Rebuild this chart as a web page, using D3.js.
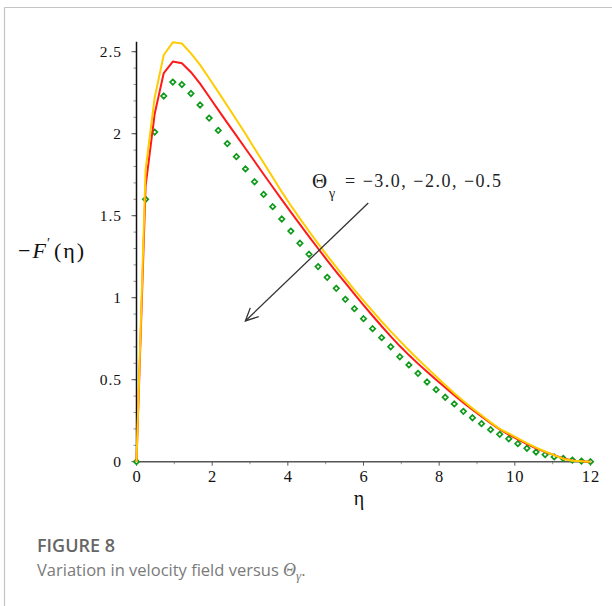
<!DOCTYPE html>
<html>
<head>
<meta charset="utf-8">
<script src="https://cdn.jsdelivr.net/npm/d3@7/dist/d3.min.js"></script>
<style>
  html, body { margin: 0; padding: 0; background: #fff; }
  svg { display: block; }
</style>
</head>
<body>
<svg id="chart" width="612" height="606"></svg>
<script>
// Similarity variable eta (solver output grid)
const eta = [0, 0.24, 0.48, 0.72, 0.96, 1.2, 1.44, 1.68, 1.92, 2.16, 2.4, 2.64, 2.88, 3.12, 3.36, 3.6,
  3.84, 4.08, 4.32, 4.56, 4.8, 5.04, 5.28, 5.52, 5.76, 6.0, 6.24, 6.48, 6.72, 6.96, 7.2, 7.44,
  7.68, 7.92, 8.16, 8.4, 8.64, 8.88, 9.12, 9.36, 9.6, 9.84, 10.08, 10.32, 10.56, 10.8, 11.04,
  11.28, 11.52, 11.76, 12.0];

// -F'(eta) for Theta_gamma = -3.0 (yellow)
const velThetaM30 = [0, 1.78, 2.22, 2.48, 2.557, 2.55, 2.49, 2.42, 2.338, 2.255, 2.17, 2.085, 2.0,
  1.91, 1.823, 1.735, 1.645, 1.562, 1.482, 1.405, 1.33, 1.257, 1.186, 1.116, 1.048, 0.982, 0.918,
  0.855, 0.795, 0.737, 0.68, 0.625, 0.572, 0.52, 0.468, 0.418, 0.37, 0.325, 0.283, 0.24, 0.2,
  0.172, 0.142, 0.113, 0.086, 0.062, 0.04, 0.017, 0.006, 0.002, 0];

// -F'(eta) for Theta_gamma = -2.0 (red)
const velThetaM20 = [0, 1.68, 2.12, 2.37, 2.44, 2.43, 2.375, 2.305, 2.225, 2.145, 2.066, 1.988, 1.91,
  1.832, 1.753, 1.675, 1.598, 1.522, 1.447, 1.372, 1.3, 1.228, 1.158, 1.09, 1.022, 0.955, 0.89,
  0.826, 0.764, 0.705, 0.65, 0.598, 0.548, 0.5, 0.452, 0.405, 0.36, 0.317, 0.276, 0.235, 0.197,
  0.165, 0.136, 0.108, 0.082, 0.06, 0.04, 0.02, 0.008, 0.002, 0];

// -F'(eta) for Theta_gamma = -0.5 (green points)
const velThetaM05 = [0, 1.6, 2.01, 2.23, 2.315, 2.3, 2.245, 2.175, 2.095, 2.02, 1.94, 1.86, 1.785,
  1.707, 1.63, 1.555, 1.48, 1.406, 1.332, 1.265, 1.19, 1.124, 1.057, 0.99, 0.933, 0.872, 0.811,
  0.756, 0.701, 0.64, 0.59, 0.539, 0.486, 0.439, 0.393, 0.352, 0.307, 0.268, 0.232, 0.195, 0.167,
  0.14, 0.11, 0.082, 0.059, 0.043, 0.029, 0.02, 0.01, 0.004, 0];

const xTicks = [0, 2, 4, 6, 8, 10, 12];
const xMinorTicks = [1, 3, 5, 7, 9, 11];
const yTicks = [0, 0.5, 1, 1.5, 2, 2.5];
const yTickLabels = ["0", "0.5", "1", "1.5", "2", "2.5"];
const yMinorTicks = d3.range(0, 26).map(i => i / 10);

// Arrow annotation in data units: [eta, value] from tail to head
const arrowTail = [6.126, 1.577];
const arrowHead = [2.878, 0.858];
const thetaValues = "= \u22123.0, \u22122.0, \u22120.5";

const svg = d3.select("#chart");
const serif = "'Liberation Serif', 'Times New Roman', serif";
const sans = "'Open Sans', 'Noto Sans', sans-serif";

// Panel frame
svg.append("line").attr("x1", 4.5).attr("y1", 7.5).attr("x2", 612).attr("y2", 7.5)
  .attr("stroke", "#c4c4c4").attr("stroke-width", 1.2);
svg.append("line").attr("x1", 4.5).attr("y1", 7.5).attr("x2", 4.5).attr("y2", 606)
  .attr("stroke", "#c4c4c4").attr("stroke-width", 1.2);

const x = d3.scaleLinear().domain([0, 12]).range([136.5, 590.5]);
const y = d3.scaleLinear().domain([0, 2.5]).range([461.7, 51.7]);

// Y axis: minor ticks, major ticks, labels
const yAxis = svg.append("g");
yAxis.selectAll("line.minor").data(yMinorTicks).join("line")
  .attr("class", "minor")
  .attr("x1", x(0) - 3).attr("x2", x(0))
  .attr("y1", d => y(d)).attr("y2", d => y(d))
  .attr("stroke", "#888").attr("stroke-width", 0.9);
yAxis.selectAll("line.major").data(yTicks).join("line")
  .attr("class", "major")
  .attr("x1", x(0) - 5).attr("x2", x(0))
  .attr("y1", d => y(d)).attr("y2", d => y(d))
  .attr("stroke", "#555").attr("stroke-width", 1);
yAxis.selectAll("text").data(yTicks).join("text")
  .attr("x", 122).attr("y", d => y(d) + 5)
  .attr("text-anchor", "end")
  .attr("font-family", serif).attr("font-size", 15.5)
  .attr("letter-spacing", 1)
  .attr("fill", "#111")
  .text((d, i) => yTickLabels[i]);
yAxis.append("line")
  .attr("x1", x(0)).attr("x2", x(0))
  .attr("y1", y(0)).attr("y2", y(2.56))
  .attr("stroke", "#111").attr("stroke-width", 1.5);

// X axis
const xAxis = svg.append("g");
xAxis.selectAll("line.minor").data(xMinorTicks).join("line")
  .attr("class", "minor")
  .attr("x1", d => x(d)).attr("x2", d => x(d))
  .attr("y1", y(0)).attr("y2", y(0) + 2.5)
  .attr("stroke", "#888").attr("stroke-width", 0.9);
xAxis.selectAll("line.major").data(xTicks).join("line")
  .attr("class", "major")
  .attr("x1", d => x(d)).attr("x2", d => x(d))
  .attr("y1", y(0)).attr("y2", y(0) + 4)
  .attr("stroke", "#555").attr("stroke-width", 1);
xAxis.selectAll("text").data(xTicks).join("text")
  .attr("x", d => x(d) + 0.5).attr("y", 481.5)
  .attr("text-anchor", "middle")
  .attr("font-family", serif).attr("font-size", 16.5)
  .attr("letter-spacing", 1)
  .attr("fill", "#111")
  .text(d => d);
xAxis.append("line")
  .attr("x1", x(0)).attr("x2", x(12))
  .attr("y1", y(0)).attr("y2", y(0))
  .attr("stroke", "#555").attr("stroke-width", 1.4);

// Axis titles
svg.append("text")
  .attr("x", 359).attr("y", 505)
  .attr("text-anchor", "middle")
  .attr("font-family", serif).attr("font-size", 20)
  .attr("fill", "#111")
  .text("\u03b7");

const yTitle = svg.append("text")
  .attr("x", 18).attr("y", 258)
  .attr("font-family", serif).attr("font-size", 22)
  .attr("fill", "#111");
yTitle.append("tspan").text("\u2212");
yTitle.append("tspan").attr("font-style", "italic").attr("dx", 2).text("F");
yTitle.append("tspan").attr("font-size", 14).attr("dy", -10).attr("dx", 1).text("\u2032");
yTitle.append("tspan").attr("dy", 10).attr("dx", 4).attr("letter-spacing", 2).text("(\u03b7)");

// Curves
const points = (vals) => eta.map((e, i) => [e, vals[i]]);
const line = d3.line().x(d => x(d[0])).y(d => y(d[1]));

const plot = svg.append("g");

// Theta_gamma = -0.5 : hollow diamond points
plot.selectAll("path.pt").data(points(velThetaM05)).join("path")
  .attr("class", "pt")
  .attr("transform", d => `translate(${x(d[0])},${y(d[1])})`)
  .attr("d", "M0,-2.7L2.7,0L0,2.7L-2.7,0Z")
  .attr("fill", "#fff")
  .attr("stroke", "#0f9a1c")
  .attr("stroke-width", 1.7);

plot.append("path").datum(points(velThetaM20))
  .attr("d", line)
  .attr("fill", "none").attr("stroke", "#ff1a1a").attr("stroke-width", 2)
  .attr("stroke-linejoin", "round");

plot.append("path").datum(points(velThetaM30))
  .attr("d", line)
  .attr("fill", "none").attr("stroke", "#ffcc00").attr("stroke-width", 2)
  .attr("stroke-linejoin", "round");

// Annotation arrow (open head)
const ax0 = x(arrowTail[0]), ay0 = y(arrowTail[1]);
const ax1 = x(arrowHead[0]), ay1 = y(arrowHead[1]);
const ang = Math.atan2(ay0 - ay1, ax0 - ax1);
const headLen = 14, spread = 0.45;
const ann = svg.append("g").attr("stroke", "#333").attr("stroke-width", 1.3).attr("fill", "none");
ann.append("line").attr("x1", ax0).attr("y1", ay0).attr("x2", ax1).attr("y2", ay1);
ann.append("path").attr("d",
  `M${ax1 + headLen * Math.cos(ang - spread)},${ay1 + headLen * Math.sin(ang - spread)}` +
  `L${ax1},${ay1}` +
  `L${ax1 + headLen * Math.cos(ang + spread)},${ay1 + headLen * Math.sin(ang + spread)}`);

const lab = svg.append("g").attr("font-family", serif).attr("fill", "#222");
lab.append("text").attr("x", 312).attr("y", 188).attr("font-size", 21).text("\u0398");
lab.append("text").attr("x", 329).attr("y", 198).attr("font-size", 14).text("\u03b3");
lab.append("text").attr("x", 345).attr("y", 187).attr("font-size", 18)
  .attr("letter-spacing", 1.5)
  .text(thetaValues);

// Caption
svg.append("text")
  .attr("x", 37).attr("y", 552)
  .attr("font-family", sans).attr("font-weight", 600).attr("font-size", 18)
  .attr("fill", "#666")
  .text("FIGURE 8");
const cap = svg.append("text")
  .attr("x", 37).attr("y", 575.5)
  .attr("font-family", sans).attr("font-size", 16.5)
  .attr("fill", "#7a7a7a");
cap.append("tspan").text("Variation in velocity field versus ");
cap.append("tspan").attr("font-style", "italic").attr("font-family", serif).attr("font-size", 18).text("\u0398");
cap.append("tspan").attr("font-style", "italic").attr("font-family", serif).attr("font-size", 13).attr("dy", 4).text("\u03b3");
cap.append("tspan").attr("dy", -4).text(".");
</script>
</body>
</html>
